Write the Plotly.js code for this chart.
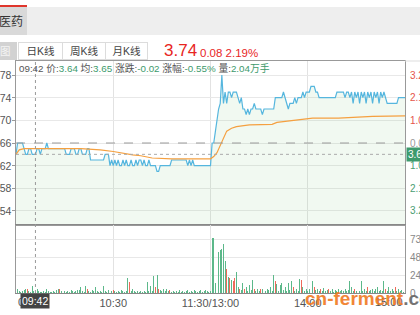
<!DOCTYPE html>
<html><head><meta charset="utf-8">
<script src="https://cdn.plot.ly/plotly-3.0.1.min.js"></script>
<style>
html,body{margin:0;padding:0;width:420px;height:315px;overflow:hidden;background:#fff;font-family:"Liberation Sans","Noto Sans CJK SC",sans-serif;}
#chart{position:absolute;left:0;top:0;width:420px;height:315px;}
.ov{position:absolute;white-space:nowrap;}
.tab{position:absolute;top:42px;height:18px;border:1px solid #dcdcdc;box-sizing:border-box;font-size:10.5px;color:#444;text-align:center;line-height:17px;background:#fff;}
.g{color:#3d9a6c;}
</style></head><body>
<div id="chart"></div>
<div class="ov" style="left:0;top:7px;width:420px;height:28px;background:#eeeeee;"></div>
<div class="ov" style="left:0;top:5px;width:27px;height:2px;background:#e0362c;"></div>
<div class="ov" style="left:0;top:7px;width:27px;height:28px;background:#d9d9d9;"></div>
<div class="ov" style="left:-1px;top:14px;font-size:12px;color:#333;line-height:16px;">医药</div>
<div class="ov" style="left:0;top:42px;width:17px;height:18px;background:#d2d2d2;"></div>
<div class="ov" style="left:0px;top:43px;font-size:10.5px;color:#f4f4f4;line-height:16px;">图</div>
<div class="tab" style="left:18px;width:45px;">日K线</div>
<div class="tab" style="left:62px;width:44px;">周K线</div>
<div class="tab" style="left:105px;width:43px;">月K线</div>
<div class="ov" id="lastPrice" style="left:164px;top:41px;font-size:17px;color:#e8261f;line-height:20px;"></div>
<div class="ov" id="lastChg" style="left:200px;top:46px;font-size:11.5px;color:#e8261f;line-height:14px;"></div>
<div class="ov" id="info" style="left:19px;top:63px;font-size:9.8px;color:#555;line-height:12px;"></div>
<script>
// ---- data ----
const prevClose = 3.66;
const minutes = [
0,1,2,3,4,5,6,7,8,9,10,11,12,13,14,15,16,17,18,19,20,21,22,23,24,25,26,27,28,29,
30,31,32,33,34,35,36,37,38,39,40,41,42,43,44,45,46,47,48,49,50,51,52,53,54,55,56,57,58,59,
60,61,62,63,64,65,66,67,68,69,70,71,72,73,74,75,76,77,78,79,80,81,82,83,84,85,86,87,88,89,
90,91,92,93,94,95,96,97,98,99,100,101,102,103,104,105,106,107,108,109,110,111,112,113,114,115,116,117,118,119,
120,121,122,123,124,125,126,127,128,129,130,131,132,133,134,135,136,137,138,139,140,141,142,143,144,145,146,147,148,149,
150,151,152,153,154,155,156,157,158,159,160,161,162,163,164,165,166,167,168,169,170,171,172,173,174,175,176,177,178,179,
180,181,182,183,184,185,186,187,188,189,190,191,192,193,194,195,196,197,198,199,200,201,202,203,204,205,206,207,208,209,
210,211,212,213,214,215,216,217,218,219,220,221,222,223,224,225,226,227,228,229,230,231,232,233,234,235,236,237,238,239,240];
const price = [
3.64,3.66,3.66,3.66,3.66,3.65,3.64,3.64,3.65,3.65,
3.64,3.64,3.64,3.65,3.65,3.64,3.65,3.65,3.65,3.66,
3.65,3.65,3.65,3.65,3.65,3.65,3.65,3.65,3.65,3.65,
3.65,3.64,3.64,3.64,3.65,3.65,3.65,3.64,3.64,3.65,
3.65,3.64,3.64,3.64,3.65,3.65,3.63,3.63,3.63,3.63,
3.63,3.63,3.63,3.63,3.63,3.64,3.64,3.64,3.62,3.63,
3.62,3.63,3.62,3.63,3.62,3.62,3.63,3.62,3.63,3.62,
3.62,3.63,3.62,3.62,3.63,3.62,3.63,3.63,3.62,3.63,
3.62,3.62,3.63,3.62,3.62,3.62,3.62,3.61,3.61,3.62,
3.62,3.62,3.62,3.62,3.62,3.62,3.63,3.63,3.63,3.63,
3.63,3.63,3.63,3.63,3.63,3.63,3.62,3.63,3.62,3.63,
3.62,3.62,3.62,3.62,3.62,3.62,3.62,3.62,3.62,3.62,
3.62,3.66,3.66,3.68,3.70,3.72,3.73,3.78,3.73,3.75,
3.73,3.75,3.75,3.74,3.75,3.75,3.75,3.74,3.73,3.74,
3.72,3.72,3.71,3.72,3.71,3.72,3.72,3.73,3.72,3.72,
3.72,3.72,3.71,3.72,3.72,3.72,3.72,3.72,3.72,3.72,
3.74,3.74,3.74,3.74,3.74,3.75,3.74,3.73,3.72,3.73,
3.73,3.73,3.74,3.73,3.74,3.74,3.74,3.75,3.74,3.75,
3.75,3.75,3.76,3.76,3.76,3.75,3.75,3.74,3.74,3.74,
3.74,3.74,3.74,3.74,3.74,3.74,3.74,3.74,3.75,3.75,
3.75,3.75,3.75,3.74,3.75,3.75,3.74,3.75,3.73,3.75,
3.74,3.75,3.73,3.75,3.74,3.75,3.73,3.75,3.74,3.75,
3.73,3.75,3.74,3.75,3.73,3.75,3.74,3.75,3.74,3.73,
3.73,3.73,3.73,3.73,3.73,3.73,3.74,3.74,3.74,3.74,
3.74];
const avgMinutes = [0,2,5,40,52,60,72,77,84,96,120,122,124,126,128,130,133,136,144,158,161,170,180,183,199,207,220,240];
const avgPrice = [3.640,3.648,3.650,3.650,3.648,3.645,3.639,3.6375,3.6335,3.632,3.632,3.636,3.643,3.655,3.670,3.681,3.686,3.689,3.692,3.693,3.6965,3.6995,3.7025,3.704,3.704,3.7055,3.707,3.708];
const volume = [
4,5,3,2,3,4,6,6,3,2,
9,3,2,6,3,2,2,3,2,5,
3,2,2,3,2,4,6,5,3,7,
3,2,3,2,4,3,2,3,4,4,
8,3,2,10,6,3,2,4,3,8,
3,2,3,2,10,3,2,4,12,3,
4,3,2,3,2,4,3,2,3,21,
15,3,5,3,2,3,2,3,2,3,
2,15,3,10,3,23,8,25,6,4,
3,5,3,6,3,4,2,3,2,3,
2,4,2,3,2,3,4,2,3,2,
4,3,2,3,4,2,3,4,3,2,
3,74,74,13,43,55,58,59,67,43,
32,22,20,18,16,20,29,8,5,4,
13,6,8,3,11,4,17,6,3,5,
3,6,5,8,3,5,4,8,3,25,
16,12,3,11,14,4,8,3,13,4,
16,8,3,6,3,19,18,8,3,6,
3,6,25,16,8,4,6,3,5,3,
7,3,4,5,3,6,2,4,3,5,
3,4,3,6,3,4,16,8,3,6,
3,4,3,16,3,6,3,8,3,4,
6,3,5,8,3,4,3,16,6,3,
8,3,6,3,8,3,5,3,4,2,
32];
const upBars = [7,27,44,60,70,86,88,95,130,132,134,135,138,141,147,151,160,171,176,184,188,193,209,217,228,234];
const timeTickVals = [60,120,180];
const timeTickText = ['10:30','11:30/13:00','14:00'];
const openLabel = '09:30', closeLabel = '15:00';
const priceTicks = [3.54,3.58,3.62,3.66,3.70,3.74,3.78];
const volTicks = [24.4,48.8,73.2];
const cursorMinute = 12, cursorTime = '09:42', cursorAvg = 3.65, cursorVolText = '2.04万手';

// ---- header texts ----
const last = price[price.length-1];
const chg = last - prevClose;
document.getElementById('lastPrice').textContent = last.toFixed(2);
document.getElementById('lastChg').textContent = chg.toFixed(2) + ' ' + (chg/prevClose*100).toFixed(2) + '%';
const cp = price[cursorMinute], cc = cp - prevClose;
document.getElementById('info').innerHTML = cursorTime + ' 价:<span class="g">' + cp.toFixed(2) + '</span> 均:<span class="g">' + cursorAvg.toFixed(2) +
  '</span> 涨跌:<span class="g">' + cc.toFixed(2) + '</span> 涨幅:<span class="g">' + (cc/prevClose*100).toFixed(2) + '%</span> 量:<span class="g">' + cursorVolText + '</span>';

// ---- chart ----
const GREEN = '#5cb88a', RED = '#ef6a5a';
const barColors = volume.map((v,i)=> upBars.includes(i) ? RED : GREEN);
const FONT = '"Liberation Sans","Noto Sans CJK SC",sans-serif';
const split = 0.2931;

const traces = [
  {x: minutes, y: price, type:'scatter', mode:'lines', line:{color:'#55b6de', width:1.2}, fill:'tozeroy', fillcolor:'rgba(120,200,120,0.1)', xaxis:'x', yaxis:'y', hoverinfo:'skip'},
  {x: avgMinutes, y: avgPrice, type:'scatter', mode:'lines', line:{color:'#f5a040', width:1.2}, xaxis:'x', yaxis:'y', hoverinfo:'skip'},
  {x: minutes, y: volume, type:'bar', marker:{color: barColors, line:{width:0}}, width:0.6, xaxis:'x2', yaxis:'y2', hoverinfo:'skip'}
];

const annotations = [];
priceTicks.forEach(v=>{
  annotations.push({xref:'paper', x:0, xanchor:'right', xshift:-2, yref:'y', y:v, yanchor:'middle', text:v.toFixed(2), showarrow:false, font:{size:10.5, color:'#555', family:FONT}});
  const p = (v - prevClose)/prevClose*100;
  const col = Math.abs(p) < 1e-9 ? '#999' : (p > 0 ? '#e5554b' : '#4a9e72');
  annotations.push({xref:'paper', x:1, xanchor:'left', xshift:3, yref:'y', y:v, yanchor:'middle', text: Math.abs(p).toFixed(2)+'%', showarrow:false, font:{size:10, color:col, family:FONT}});
});
annotations.push({xref:'paper', x:1, xanchor:'left', xshift:1, yref:'y', y:cp, yanchor:'middle', text:cp.toFixed(2), showarrow:false, bgcolor:'#3d9a6c', borderpad:1, font:{size:10, color:'#fff', family:FONT}});
volTicks.forEach(v=>{
  annotations.push({xref:'paper', x:1, xanchor:'left', xshift:3, yref:'y2', y:v, yanchor:'middle', text:v.toFixed(1), showarrow:false, font:{size:10, color:'#888', family:FONT}});
});
annotations.push({xref:'paper', x:1, xanchor:'left', xshift:3, yref:'y2', y:0, yanchor:'middle', text:'0', showarrow:false, font:{size:10, color:'#888', family:FONT}});
annotations.push({xref:'x2', x:0, xanchor:'left', yref:'paper', y:0, yanchor:'top', yshift:-1, text:openLabel, showarrow:false, font:{size:11, color:'#555', family:FONT}});
annotations.push({xref:'x2', x:240, xanchor:'right', yref:'paper', y:0, yanchor:'top', yshift:-1, text:closeLabel, showarrow:false, font:{size:11, color:'#555', family:FONT}});
annotations.push({xref:'x2', x:cursorMinute, xanchor:'center', yref:'paper', y:0, yanchor:'top', yshift:0, text:cursorTime, showarrow:false, bgcolor:'#444', borderpad:1, font:{size:10.5, color:'#fff', family:FONT}});
annotations.push({xref:'paper', x:0.737, xanchor:'left', yref:'paper', y:0.03, yanchor:'top', text:'<b>cn-ferment<span style="color:#666">.co</span></b>', showarrow:false, font:{size:19, color:'#f07a22', family:'"Liberation Sans",Arial,sans-serif'}, opacity:0.9});

const shapes = [
  {type:'line', xref:'paper', x0:0, x1:1, yref:'y', y0:prevClose, y1:prevClose, line:{color:'#9a9a9a', width:1, dash:'dash'}},
  {type:'line', xref:'paper', x0:0, x1:1, yref:'y', y0:cp, y1:cp, line:{color:'#aaa', width:1, dash:'dot'}},
  {type:'line', xref:'x', x0:cursorMinute, x1:cursorMinute, yref:'paper', y0:0, y1:1, line:{color:'#999', width:1, dash:'dot'}},
  {type:'line', xref:'paper', x0:1, x1:1.04, yref:'paper', y0:1, y1:1, line:{color:'#ddd', width:1}}
];

const layout = {
  width:420, height:315, margin:{l:16, r:15, t:61, b:22},
  paper_bgcolor:'rgba(0,0,0,0)', plot_bgcolor:'#fff', showlegend:false, bargap:0,
  font:{family:FONT, size:11, color:'#555'},
  xaxis:{domain:[0,1], range:[0,240], anchor:'y', tickvals:timeTickVals, showticklabels:false, ticks:'', showgrid:true, gridcolor:'#e2e2e2', zeroline:false, showline:true, linecolor:'#999', mirror:true, fixedrange:true},
  xaxis2:{domain:[0,1], range:[0,240], anchor:'y2', tickvals:timeTickVals, ticktext:timeTickText, ticks:'', tickfont:{size:11, color:'#555'}, showgrid:true, gridcolor:'#e2e2e2', zeroline:false, showline:true, linecolor:'#888', mirror:true, fixedrange:true},
  yaxis:{domain:[split,1], range:[3.5152,3.8048], anchor:'x', tickvals:priceTicks, showticklabels:false, ticks:'outside', ticklen:3, tickcolor:'#999', showgrid:true, gridcolor:'#e8e8e8', zeroline:false, showline:true, linecolor:'#999', mirror:true, fixedrange:true},
  yaxis2:{domain:[0,split], range:[0,92.2], anchor:'x2', tickvals:volTicks, showticklabels:false, ticks:'', showgrid:true, gridcolor:'#e8e8e8', zeroline:false, showline:true, linecolor:'#999', mirror:true, fixedrange:true},
  annotations: annotations, shapes: shapes
};
Plotly.newPlot('chart', traces, layout, {staticPlot:true, displayModeBar:false});
</script>
</body></html>
